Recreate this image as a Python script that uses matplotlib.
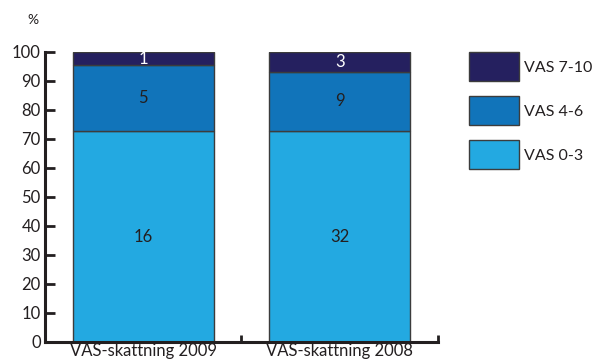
import numpy as np
import matplotlib
matplotlib.use('Agg')
import matplotlib.pyplot as plt
from matplotlib.patches import Patch

plt.rcParams['font.family'] = ['Lato', 'DejaVu Sans']

# data: counts per VAS group (bar labels), heights are shares in percent
categories = ['VAS-skattning 2009', 'VAS-skattning 2008']
series_names = ['VAS 0-3', 'VAS 4-6', 'VAS 7-10']
counts = {
    'VAS 0-3': [16, 32],
    'VAS 4-6': [5, 9],
    'VAS 7-10': [1, 3],
}
colors = {'VAS 0-3': '#23a9e1', 'VAS 4-6': '#1174ba', 'VAS 7-10': '#25205f'}
label_colors = {'VAS 0-3': '#231f20', 'VAS 4-6': '#231f20', 'VAS 7-10': 'white'}

ink = '#231f20'
totals = np.sum([counts[s] for s in series_names], axis=0)

fig = plt.figure(figsize=(5.93, 3.63), dpi=100)
ax = fig.add_axes([0.0759, 0.0579, 0.6627, 0.7991])

x = np.arange(len(categories))
bottom = np.zeros(len(categories))
for name in series_names:
    pct = np.array(counts[name]) / totals * 100
    ax.bar(x, pct, width=0.72, bottom=bottom, color=colors[name],
           edgecolor='#3c3c3c', linewidth=1.0, label=name, zorder=2)
    for xi, b, h, c in zip(x, bottom, pct, counts[name]):
        ax.text(xi, b + h / 2, str(c), ha='center', va='center',
                fontsize=12, color=label_colors[name], zorder=3)
    bottom += pct

ax.set_xlim(-0.5, 1.5)
ax.set_ylim(0, 100)
ax.set_yticks(np.arange(0, 101, 10))
ax.set_xticks(x)
ax.set_xticklabels(categories)
ax.set_xticks([0.5, 1.5], minor=True)

for side in ['top', 'right']:
    ax.spines[side].set_visible(False)
for side in ['left', 'bottom']:
    ax.spines[side].set_linewidth(2.2)
    ax.spines[side].set_color(ink)

ax.tick_params(axis='y', direction='in', length=7, width=2, color=ink,
               labelsize=12, labelcolor=ink, pad=3)
ax.tick_params(axis='x', which='major', length=0, labelsize=12,
               labelcolor=ink, pad=1)
ax.tick_params(axis='x', which='minor', direction='in', length=5, width=2,
               color=ink)

fig.text(0.056, 0.945, '%', fontsize=10, color=ink, ha='center', va='center')

handles = [Patch(facecolor=colors[n], edgecolor='#3c3c3c', linewidth=1.0)
           for n in reversed(series_names)]
fig.legend(handles, list(reversed(series_names)), loc='upper left',
           bbox_to_anchor=(0.767, 0.895), frameon=False, fontsize=11.5,
           handlelength=3.1, handleheight=2.4, labelspacing=0.95,
           handletextpad=0.3, labelcolor=ink)

fig.savefig('out.png', dpi=100)
